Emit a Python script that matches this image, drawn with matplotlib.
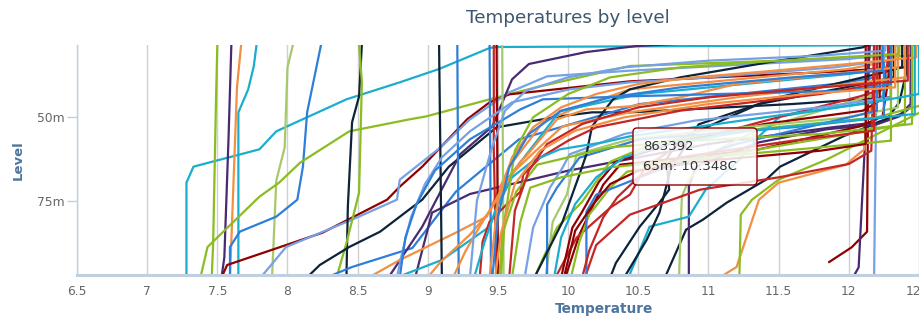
import matplotlib
matplotlib.use("Agg")
import matplotlib.pyplot as plt
from matplotlib.patches import FancyBboxPatch
from matplotlib.transforms import IdentityTransform

# Highcharts 3 default palette
palette = ['#2f7ed8', '#0d233a', '#8bbc21', '#910000', '#1aadce',
           '#492970', '#f28f43', '#77a1e5', '#c42525', '#a6c96a']

# each profile: (level m, temperature C) pairs, top to bottom
profiles = [
    [(28, 7.78), (34.6, 7.76), (41.6, 7.72), (48.5, 7.65), (98, 7.65)],
    [(28.3, 12.6), (28.9, 9.49), (29.2, 9.44), (35.5, 9.08), (39.5, 8.80), (44.6, 8.42), (54.2, 7.92),
     (59.6, 7.80), (64.8, 7.33), (69.6, 7.28), (98, 7.28)],
    [(28, 7.50), (46, 7.49), (88, 7.47), (98, 7.46)],
    [(28, 7.60), (56, 7.58), (92, 7.55), (98, 7.53)],
    [(28, 7.67), (41, 7.64), (87, 7.60), (98, 7.59)],
    [(28, 8.04), (35, 8.00), (59, 7.98), (69, 7.92), (98, 7.89)],
    [(28, 8.24), (48.5, 8.14), (64.8, 8.11), (74.7, 8.07), (79.8, 7.92), (84.3, 7.66), (88.9, 7.59), (98, 7.59)],
    [(28, 12.45), (31.5, 12.45), (33, 11.5), (34.6, 10.44), (40.7, 9.80), (44.6, 9.44), (49.7, 8.99), (50.6, 8.87),
     (54.2, 8.44), (63.6, 8.09), (69.6, 7.94), (73.8, 7.80), (88.9, 7.43), (98, 7.38)],
    [(28, 12.4), (35, 12.4), (36.5, 11.8), (39.2, 10.44), (43.1, 9.58), (45.5, 9.44), (50.6, 9.28), (64.8, 8.96),
     (70.8, 8.80), (74.7, 8.71), (84.6, 8.25), (94.3, 7.57), (98, 7.53)],
    [(28, 12.3), (31, 12.3), (32.5, 12.0), (36, 10.44), (37.7, 9.85), (42.5, 9.58), (50.6, 9.30), (58.7, 9.10),
     (68.7, 8.80), (74.7, 8.78), (80.7, 8.46), (88.9, 7.99), (98, 7.81)],
    [(28, 8.53), (43.7, 8.51), (51.5, 8.46), (76.8, 8.43), (98, 8.42)],
    [(28, 8.51), (39.5, 8.53), (72.6, 8.51), (87.7, 8.42), (98, 8.35)],
    [(28, 12.3), (44, 12.3), (46, 11.6), (48.5, 10.44), (48.5, 10.17), (49.7, 9.94), (53, 9.49), (64.8, 9.15),
     (74.7, 8.96), (84.3, 8.66), (88.9, 8.44), (94.3, 8.23), (98, 8.14)],
    [(28, 12.2), (38, 12.2), (40, 11.9), (46, 10.51), (56.6, 9.65), (72.3, 9.20), (89.2, 8.89), (94.9, 8.46),
     (98, 8.28)],
    [(27.5, 11.0), (28.6, 10.49), (30.4, 10.13), (34, 9.72), (38.6, 9.60), (52.7, 9.46), (61.1, 9.23),
     (82.8, 8.96), (98, 8.72)],
    [(28, 12.44), (46, 12.44), (49, 12.37), (51.5, 12.2), (53, 11.88), (58, 11.0), (62, 10.5), (66, 10.0),
     (70, 9.6), (73, 9.3), (78.6, 9.03), (98, 8.91)],
    [(28, 12.3), (33, 12.3), (35.5, 12.0), (41.6, 10.44), (47.6, 10.03), (51.5, 9.82), (64.8, 9.58),
     (79.8, 9.42), (84.6, 9.20), (92.8, 8.80), (98, 8.58)],
    [(28, 12.35), (35, 12.35), (37, 12.0), (43, 10.51), (48.2, 9.94), (67.8, 9.58), (82.8, 9.44), (92.8, 9.10),
     (98, 8.78)],
    [(28, 9.08), (98, 9.10)],
    [(28, 9.21), (98, 9.22)],
    [(28, 9.44), (98, 9.45)],
    [(28, 9.47), (60, 9.47), (98, 9.49)],
    [(28, 9.49), (98, 9.50)],
    [(28, 9.53), (98, 9.54)],
    [(28, 12.14), (84.3, 12.13), (89, 12.02), (93.4, 11.86)],
    [(28, 12.2), (98, 12.18)],
    [(28, 12.15), (62, 12.11), (95, 12.07), (98, 12.03)],
    [(28, 12.25), (44.6, 12.18), (50.6, 12.13), (59.6, 12.11), (62.7, 12.02), (64.2, 11.98), (69.6, 11.5),
     (74.7, 11.36), (94.9, 11.20), (98, 11.08)],
    [(28, 12.55), (47.6, 12.55), (55.7, 12.17), (62.7, 11.84), (68.7, 11.50), (74.7, 11.31), (79.2, 11.23),
     (98, 11.22)],
    [(28, 12.41), (36.4, 12.41), (45.5, 12.36), (50.6, 12.27), (55.7, 11.96), (64.8, 11.51), (68.7, 11.41),
     (75.6, 11.13), (80.7, 10.96), (83.7, 10.84), (98, 10.69)],
    [(28, 12.45), (46.7, 12.45), (49.7, 12.36), (52.1, 12.2), (53.6, 11.84), (57.5, 11.36), (64.8, 10.91),
     (70.8, 10.86), (98, 10.86)],
    [(28, 12.3), (40, 12.3), (43, 12.2), (48, 11.8), (53.6, 11.36), (60.5, 11.03), (68.7, 10.86), (73.8, 10.81),
     (98, 10.79)],
    [(28, 12.28), (36.4, 12.28), (43.7, 12.24), (45.5, 12.15), (49.7, 11.51), (55.7, 11.36), (62.7, 11.22),
     (71.7, 10.98), (79.8, 10.86), (82.8, 10.58), (98, 10.43)],
    [(28, 12.32), (38, 12.32), (40, 12.1), (46, 11.36), (56.6, 10.79), (62.7, 10.70), (71.7, 10.72),
     (75.6, 10.65), (82.8, 10.51), (93.7, 10.34), (98, 10.30)],
    [(28, 12.38), (35, 12.38), (37, 12.2), (44, 11.5), (52.1, 10.93), (65.7, 10.73), (78.6, 10.65),
     (86.7, 10.56), (98, 10.40)],
    [(28, 12.29), (36.4, 12.29), (49.7, 12.24), (52.7, 12.08), (59.6, 11.36), (64.2, 10.37), (70.2, 10.25),
     (77.1, 10.17), (85.2, 10.08), (98, 9.98)],
    [(28, 12.28), (32.5, 12.28), (41.6, 12.24), (43.7, 12.08), (51.5, 11.36), (58, 10.8), (65, 10.55),
     (73.2, 10.44), (77.1, 10.30), (86.1, 10.06), (98, 9.91)],
    [(28, 12.22), (45, 12.22), (48, 12.1), (52, 11.4), (57, 10.8), (63.3, 10.34), (69.3, 10.22), (78.3, 10.10),
     (83.1, 10.03), (98, 9.95)],
    [(28, 12.18), (60, 12.16), (64, 12.0), (68, 11.5), (71.7, 10.94), (79.2, 10.44), (88.3, 10.20), (98, 10.12)],
    [(28, 12.55), (46, 12.55), (50, 12.2), (55, 11.0), (58, 10.6), (63.3, 10.30), (75.3, 10.10), (83.1, 9.92),
     (98, 9.76)],
    [(28, 12.4), (52, 12.4), (55, 12.0), (60, 11.3), (66.3, 10.42), (71.1, 10.30), (79.2, 10.15), (87.3, 10.08),
     (98, 10.02)],
    [(28, 12.35), (47, 12.35), (50, 12.0), (54, 11.0), (56.6, 10.44), (61.1, 10.06), (73.2, 9.99), (81.3, 9.89),
     (98, 9.84)],
    [(28, 12.2), (48, 12.2), (51, 11.9), (58, 11.2), (65.7, 10.65), (73.2, 10.20), (78.3, 10.13), (98, 10.13)],
    [(28, 12.3), (44, 12.3), (47, 11.8), (51, 10.9), (55, 10.4), (61.1, 10.01), (65.1, 9.96), (71.1, 9.87),
     (83.1, 9.75), (98, 9.69)],
    [(28, 12.25), (50, 12.25), (53, 11.6), (56.6, 10.51), (62.1, 10.08), (71.1, 9.92), (76.2, 9.85), (98, 9.85)],
    [(28, 12.15), (29, 12.1), (31, 11.8), (33.4, 11.44), (38, 10.8), (41.6, 10.44), (44.6, 10.32), (52.7, 10.17),
     (61.1, 10.13), (67.2, 10.08), (81.3, 9.96), (98, 9.76)],
    [(28, 12.2), (40, 12.2), (43, 11.8), (48, 10.8), (53, 10.2), (57, 10.0), (62.1, 9.80), (67.2, 9.68),
     (72.3, 9.66), (76.2, 9.56), (81.3, 9.44), (87.3, 9.39), (98, 9.37)],
    [(28, 12.45), (52, 12.45), (55, 11.8), (57, 10.9), (59, 10.3), (64.2, 9.78), (72.3, 9.63), (85.2, 9.53),
     (98, 9.51)],
    [(28, 12.3), (57, 12.3), (59, 11.8), (62, 11.0), (65, 10.3), (68, 9.95), (71.1, 9.73), (81.3, 9.66),
     (98, 9.60)],
    [(28, 12.35), (35, 12.35), (37, 11.9), (40, 11.2), (44, 10.8), (46.7, 10.44), (47.6, 10.13), (50.6, 9.92),
     (61.7, 9.70), (63.3, 9.66), (71.1, 9.53), (78.3, 9.44), (85.2, 9.30), (93.4, 9.09), (98, 9.0)],
    [(28, 12.4), (38, 12.4), (40, 12.0), (44, 11.2), (48.5, 10.44), (52.7, 9.96), (59.6, 9.78), (66, 9.62),
     (74, 9.50), (82, 9.38), (90, 9.27), (98, 9.18)],
    [(28, 12.5), (43, 12.5), (46, 12.1), (50, 11.4), (55.7, 10.44), (57.5, 10.25), (59.6, 9.94), (63, 9.75),
     (68, 9.60), (78, 9.48), (88, 9.40), (98, 9.33)],
    [(28, 12.25), (33, 12.25), (35, 11.9), (38, 11.0), (39.5, 10.44), (41.6, 10.01), (45.5, 9.60), (54.2, 9.30),
     (62, 9.10), (70, 8.98), (80, 8.88), (90, 8.82), (98, 8.78)],
    [(28, 12.3), (40, 12.3), (42, 12.0), (43.7, 10.44), (44.6, 9.82), (47.6, 9.66), (56.6, 9.30), (66, 9.05),
     (76, 8.92), (86, 8.84), (98, 8.80)],
    [(28, 12.12), (58, 12.12), (60, 11.8), (63, 11.0), (66, 10.5), (70, 10.3), (76, 10.18), (84, 10.05),
     (98, 9.97)],
    [(28, 12.18), (54, 12.18), (57, 11.6), (62, 10.8), (68, 10.5), (74, 10.35), (80, 10.25), (90, 10.15),
     (98, 10.1)],
    [(28, 12.48), (32, 12.48), (34, 12.0), (36.4, 11.36), (38, 10.9), (40, 10.5), (43, 10.2), (47, 9.95),
     (53, 9.75), (62, 9.6), (75, 9.5), (98, 9.44)],
    [(28, 12.26), (30, 12.26), (31.5, 11.8), (33, 11.0), (35, 10.4), (38, 10.0), (42, 9.7), (48, 9.55),
     (60, 9.45), (75, 9.35), (98, 9.3)],
    [(28, 12.36), (31, 12.36), (33, 11.5), (35, 10.8), (38, 10.3), (43, 10.0), (50, 9.75), (60, 9.62),
     (80, 9.55), (98, 9.52)],
    [(28, 12.42), (39, 12.42), (41, 11.8), (44, 11.0), (47, 10.5), (52, 10.1), (58, 9.85), (66, 9.72),
     (78, 9.62), (98, 9.58)],
    [(28, 12.33), (41, 12.33), (43, 11.7), (46, 11.0), (50, 10.4), (54, 10.05), (60, 9.80), (70, 9.62),
     (85, 9.52), (98, 9.48)],
    [(28, 12.47), (49, 12.47), (51, 12.0), (54, 11.3), (58, 10.7), (62, 10.4), (68, 10.2), (76, 10.05),
     (86, 9.95), (98, 9.9)],
    [(28, 12.24), (36, 12.24), (38, 11.6), (41, 10.8), (44, 10.3), (48, 9.95), (55, 9.72), (65, 9.58),
     (80, 9.50), (98, 9.46)],
]
profile_colors = [4, 4, 2, 5, 6, 9, 0, 2, 3, 7,
                  1, 2, 1, 0, 5, 5, 6, 4, 1, 0,
                  0, 8, 3, 9, 3, 7, 5, 6, 2, 1,
                  5, 9, 4, 1, 1, 3, 8, 3, 8, 2,
                  2, 9, 0, 7, 0, 1, 8, 2, 2, 6,
                  6, 4, 7, 0, 3, 8, 6, 7, 2, 8,
                  6, 4, 0]

x_ticks = [6.5, 7, 7.5, 8, 8.5, 9, 9.5, 10, 10.5, 11, 11.5, 12, 12.5]
y_ticks = [50, 75]
tooltip_name = "863392"
tooltip_text = "65m: 10.348C"

fig = plt.figure(figsize=(9.19, 3.2), dpi=100)
ax = fig.add_axes([77 / 919, 1 - 275 / 320, 842 / 919, 230 / 320])

for prof, ci in zip(profiles, profile_colors):
    lv = [p[0] for p in prof]
    tv = [p[1] for p in prof]
    ax.plot(tv, lv, color=palette[ci], lw=1.6, solid_joinstyle='round', zorder=3)

ax.set_xlim(6.5, 12.5)
ax.set_ylim(97.3, 28.3)
ax.set_xticks(x_ticks)
ax.set_xticklabels([("%g" % t) for t in x_ticks])
ax.set_yticks(y_ticks)
ax.set_yticklabels(["%dm" % v for v in y_ticks])
ax.grid(axis='x', color='#d0d0d0', lw=1, zorder=1)
ax.tick_params(axis='x', length=0, pad=7, labelsize=8.8, colors='#666666')
ax.tick_params(axis='y', length=7, width=1, color='#c0d0e0', pad=2, labelsize=8.8, labelcolor='#666666')
for s in ['top', 'right']:
    ax.spines[s].set_visible(False)
ax.spines['left'].set_color('#c0d0e0')
ax.spines['left'].set_linewidth(1)
ax.spines['bottom'].set_color('#c0d0e0')
ax.spines['bottom'].set_linewidth(2.2)
ax.spines['bottom'].set_zorder(5)

fig.text(568 / 919, 1 - 18 / 320, "Temperatures by level", ha='center', va='center',
         fontsize=13.2, color='#3e576f')
fig.text(18 / 919, 1 - 160 / 320, "Level", rotation=90, ha='center', va='center',
         fontsize=9.5, fontweight='bold', color='#4d759e')
fig.text(604 / 919, 1 - 309 / 320, "Temperature", ha='center', va='center',
         fontsize=9.8, fontweight='bold', color='#4d759e')

# tooltip
box = FancyBboxPatch((633, 320 - 185), 124, 57, boxstyle="round,pad=0,rounding_size=4",
                     transform=IdentityTransform(), facecolor='white', alpha=0.85,
                     edgecolor='none', zorder=10)
fig.add_artist(box)
border = FancyBboxPatch((633, 320 - 185), 124, 57, boxstyle="round,pad=0,rounding_size=4",
                        transform=IdentityTransform(), facecolor='none',
                        edgecolor='#910000', lw=1, zorder=11)
fig.add_artist(border)
fig.text(643 / 919, 1 - 147 / 320, tooltip_name, ha='left', va='center', fontsize=9.5, color='#333333', zorder=12)
fig.text(643 / 919, 1 - 167 / 320, tooltip_text, ha='left', va='center', fontsize=9.5, color='#333333', zorder=12)

fig.savefig("out.png", dpi=100)
